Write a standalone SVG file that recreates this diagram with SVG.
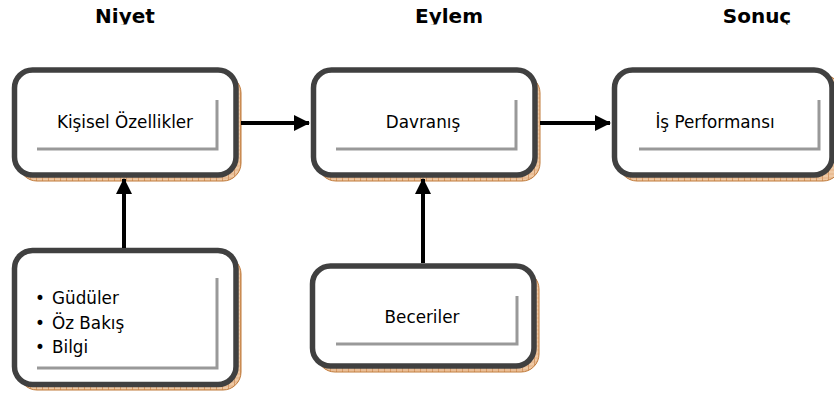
<svg xmlns="http://www.w3.org/2000/svg" width="834" height="400" viewBox="0 0 834 400">
<defs>
<pattern id="hatch" width="6" height="4" patternUnits="userSpaceOnUse">
<rect width="6" height="4" fill="#efc9a4"/>
<path d="M0 0V4" stroke="#b8692a" stroke-width="1"/>
<path d="M0 2H6" stroke="#dca070" stroke-width="0.6"/>
</pattern>
<marker id="ah" markerWidth="16" markerHeight="16" refX="15" refY="8" orient="auto" markerUnits="userSpaceOnUse" viewBox="0 0 16 16">
<path d="M0 0L16 8L0 16z" fill="#000"/>
</marker>
<clipPath id="hclip"><rect x="0" y="0" width="834" height="24.5"/></clipPath>
</defs>
<style>
.shadow{fill:url(#hatch);stroke:#c07a3a;stroke-width:1}
.box{fill:#fff;stroke:#404040;stroke-width:5.5}
.inner{fill:none;stroke:#999;stroke-width:3}
.t{font-family:"DejaVu Sans",Verdana,sans-serif;font-size:16.8px;fill:#000}
.h{font-family:"DejaVu Sans",Verdana,sans-serif;font-size:20px;font-weight:bold;fill:#000}
.con{stroke:#000;stroke-width:4;fill:none}
</style>
<rect width="834" height="400" fill="#fff"/>
<g id="headers" clip-path="url(#hclip)">
<text class="h" x="125" y="23" text-anchor="middle">Niyet</text>
<text class="h" x="449" y="23" text-anchor="middle">Eylem</text>
<text class="h" x="757" y="23" text-anchor="middle">Sonuç</text>
</g>
<g id="kisisel">
<rect class="shadow" x="19" y="75" width="222" height="106" rx="18"/>
<rect class="box" x="14.5" y="70" width="221.5" height="105" rx="18"/>
<path class="inner" d="M37 149H217V100"/>
<text class="t" x="125" y="128" text-anchor="middle">Kişisel Özellikler</text>
</g>
<g id="davranis">
<rect class="shadow" x="318" y="75" width="222" height="106" rx="18"/>
<rect class="box" x="313.5" y="70" width="221.5" height="105" rx="18"/>
<path class="inner" d="M336 149H516V100"/>
<text class="t" x="423" y="128" text-anchor="middle">Davranış</text>
</g>
<g id="performans">
<rect class="shadow" x="619" y="75" width="222" height="106" rx="18"/>
<rect class="box" x="614.5" y="70" width="217.5" height="105" rx="18"/>
<path class="inner" d="M639 149H819V100"/>
<text class="t" x="715" y="128" text-anchor="middle">İş Performansı</text>
</g>
<g id="gudu">
<rect class="shadow" x="19" y="256" width="222" height="134" rx="18"/>
<rect class="box" x="14.5" y="250.5" width="221.5" height="134" rx="18"/>
<path class="inner" d="M37 368H217V278"/>
<text class="t" x="35" y="304">•</text>
<text class="t" x="52" y="304">Güdüler</text>
<text class="t" x="35" y="329">•</text>
<text class="t" x="52" y="329">Öz Bakış</text>
<text class="t" x="35" y="353">•</text>
<text class="t" x="52" y="353">Bilgi</text>
</g>
<g id="beceri">
<rect class="shadow" x="317" y="271" width="222" height="101" rx="18"/>
<rect class="box" x="312.5" y="266" width="221.5" height="100" rx="18"/>
<path class="inner" d="M336 344H517V296"/>
<text class="t" x="422" y="323" text-anchor="middle">Beceriler</text>
</g>
<g id="connectors">
<line class="con" x1="241" y1="123" x2="309" y2="123" marker-end="url(#ah)"/>
<line class="con" x1="540" y1="123" x2="610" y2="123" marker-end="url(#ah)"/>
<line class="con" x1="124" y1="248" x2="124" y2="179" marker-end="url(#ah)"/>
<line class="con" x1="423" y1="263" x2="423" y2="179" marker-end="url(#ah)"/>
</g>
</svg>
